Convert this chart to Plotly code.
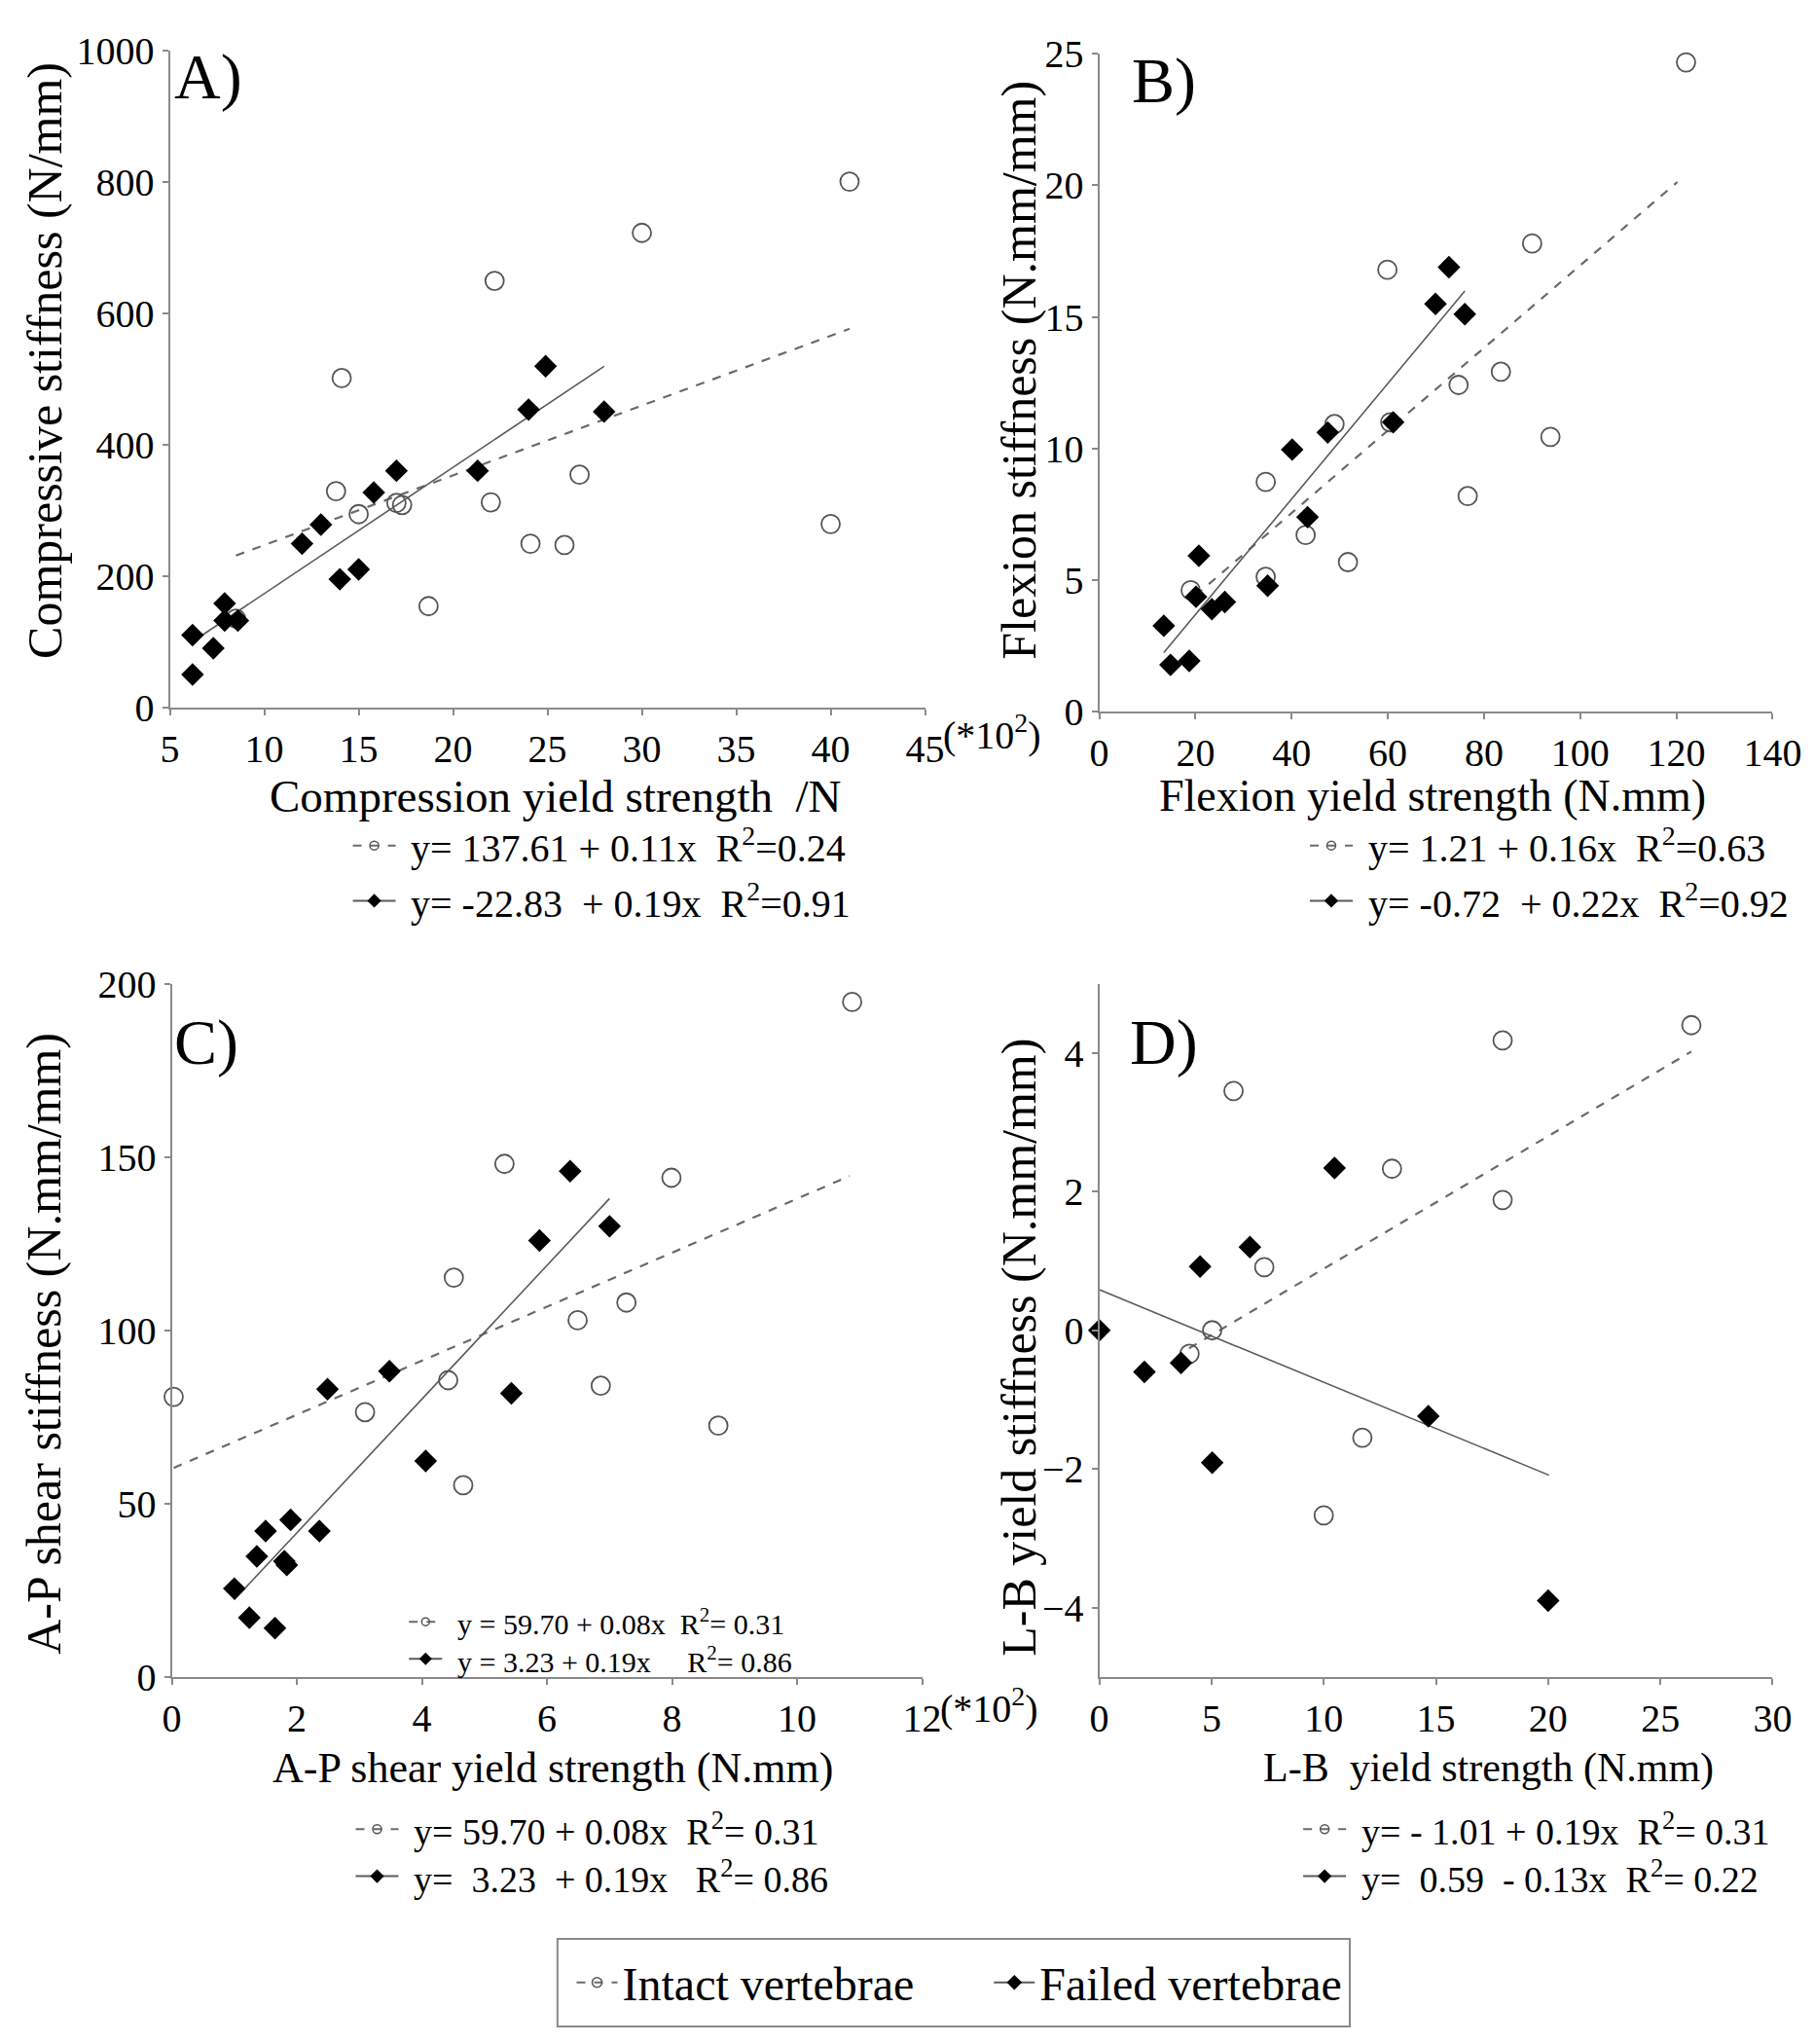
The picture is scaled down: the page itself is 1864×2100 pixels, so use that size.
import plotly.graph_objects as go

FONT = 'Liberation Serif'

# ---- A) compression ----
a_int_x = [41.0, 30.0, 22.2, 14.1, 13.8, 15.0, 17.0, 17.3, 22.0, 26.7, 18.7, 24.1, 25.9, 40.0, 8.5]
a_int_y = [800, 722, 649, 501, 329, 294, 311, 308, 312, 354, 154, 249, 247, 279, 135]
a_fail_x = [6.2, 6.2, 7.3, 7.9, 7.9, 8.6, 12.0, 13.0, 14.0, 15.0, 15.8, 17.0, 21.3, 24.0, 24.9, 28.0]
a_fail_y = [50, 110, 90, 158, 132, 132, 249, 278, 195, 210, 327, 360, 360, 453, 519, 450]
a_int_fit_x, a_int_fit_y = [8.5, 41.0], [231, 576]
a_fail_fit_x, a_fail_fit_y = [6.2, 28.0], [100, 519]

# ---- B) flexion ----
b_int_x = [122.0, 90.0, 59.9, 83.5, 74.7, 48.9, 60.5, 93.8, 76.6, 34.6, 42.9, 51.7, 34.6, 19.0]
b_int_y = [24.68, 17.79, 16.79, 12.91, 12.41, 10.92, 10.99, 10.43, 8.18, 8.72, 6.70, 5.67, 5.11, 4.60]
b_fail_x = [72.7, 69.9, 76.0, 61.1, 47.5, 40.1, 43.3, 35.0, 20.7, 20.1, 23.4, 26.1, 13.4, 14.8, 18.7]
b_fail_y = [16.89, 15.49, 15.10, 10.99, 10.60, 9.95, 7.38, 4.77, 5.91, 4.35, 3.88, 4.15, 3.25, 1.76, 1.91]
b_int_fit_x, b_int_fit_y = [20.0, 120.2], [4.4, 20.13]
b_fail_fit_x, b_fail_fit_y = [13.4, 76.0], [2.23, 15.98]

# ---- C) A-P shear ----
c_int_x = [10.88, 5.32, 7.99, 4.51, 7.27, 6.49, 4.42, 6.86, 0.03, 3.09, 8.74, 4.66]
c_int_y = [194.7, 148.0, 144.0, 115.2, 108.0, 102.9, 85.6, 84.0, 80.8, 76.4, 72.5, 55.3]
c_fail_x = [6.37, 7.0, 5.88, 3.48, 2.49, 5.43, 4.06, 1.90, 1.50, 2.36, 1.36, 1.80, 1.84, 1.0, 1.24, 1.65]
c_fail_y = [145.9, 130.0, 125.9, 88.2, 83.0, 81.8, 62.3, 45.3, 42.1, 42.1, 34.8, 33.4, 32.3, 25.5, 17.1, 14.1]
c_int_fit_x, c_int_fit_y = [0.03, 10.84], [60.3, 144.5]
c_fail_fit_x, c_fail_fit_y = [1.0, 7.0], [22.3, 138.0]

# ---- D) L-B ----
d_int_x = [26.38, 17.97, 5.98, 13.04, 17.97, 7.35, 5.03, 4.02, 11.72, 10.0]
d_int_y = [4.40, 4.18, 3.45, 2.33, 1.88, 0.91, 0.0, -0.34, -1.55, -2.67]
d_fail_x = [10.48, 6.71, 4.49, 0.0, 2.01, 3.64, 14.66, 5.03, 20.0]
d_fail_y = [2.34, 1.20, 0.92, 0.0, -0.60, -0.47, -1.24, -1.91, -3.90]
d_int_fit_x, d_int_fit_y = [4.0, 26.38], [-0.26, 4.02]
d_fail_fit_x, d_fail_fit_y = [0.0, 20.04], [0.585, -2.09]

# regression equations shown under each panel (intact, failed)
eq_a = ['y= 137.61 + 0.11x  R<sup>2</sup>=0.24', 'y= -22.83  + 0.19x  R<sup>2</sup>=0.91']
eq_b = ['y= 1.21 + 0.16x  R<sup>2</sup>=0.63', 'y= -0.72  + 0.22x  R<sup>2</sup>=0.92']
eq_c = ['y= 59.70 + 0.08x  R<sup>2</sup>= 0.31', 'y=  3.23  + 0.19x   R<sup>2</sup>= 0.86']
eq_d = ['y= - 1.01 + 0.19x  R<sup>2</sup>= 0.31', 'y=  0.59  - 0.13x  R<sup>2</sup>= 0.22']
eq_c_inset = ['y = 59.70 + 0.08x  R<sup>2</sup>= 0.31', 'y = 3.23 + 0.19x     R<sup>2</sup>= 0.86']
group_names = ['Intact vertebrae' + '\u00a0' * 6, 'Failed vertebrae']

panels = [
    ('x', 'y', a_int_x, a_int_y, a_fail_x, a_fail_y, a_int_fit_x, a_int_fit_y, a_fail_fit_x, a_fail_fit_y),
    ('x2', 'y2', b_int_x, b_int_y, b_fail_x, b_fail_y, b_int_fit_x, b_int_fit_y, b_fail_fit_x, b_fail_fit_y),
    ('x3', 'y3', c_int_x, c_int_y, c_fail_x, c_fail_y, c_int_fit_x, c_int_fit_y, c_fail_fit_x, c_fail_fit_y),
    ('x4', 'y4', d_int_x, d_int_y, d_fail_x, d_fail_y, d_int_fit_x, d_int_fit_y, d_fail_fit_x, d_fail_fit_y),
]

DASH_COL = '#6a6a6a'
SOLID_COL = '#5a5a5a'
W, H = 1864, 2100

fig = go.Figure()
for xa, ya, ix, iy, fx, fy, ifx, ify, ffx, ffy in panels:
    fig.add_trace(go.Scatter(x=ifx, y=ify, xaxis=xa, yaxis=ya, mode='lines', showlegend=False,
                             line=dict(color=DASH_COL, width=2.2, dash='dash')))
    fig.add_trace(go.Scatter(x=ffx, y=ffy, xaxis=xa, yaxis=ya, mode='lines', showlegend=False,
                             line=dict(color=SOLID_COL, width=1.6)))
    fig.add_trace(go.Scatter(x=ix, y=iy, xaxis=xa, yaxis=ya, mode='markers', showlegend=False,
                             cliponaxis=False,
                             marker=dict(symbol='circle-open', size=19, color='#555555', line=dict(width=1.8))))
    fig.add_trace(go.Scatter(x=fx, y=fy, xaxis=xa, yaxis=ya, mode='markers', showlegend=False,
                             cliponaxis=False,
                             marker=dict(symbol='diamond', size=18, color='black')))


def legend_item(lg, name, intact, msize):
    if intact:
        line = dict(color=DASH_COL, width=2, dash='dash')
        marker = dict(symbol='circle-open', size=msize, color='#555555', line=dict(width=1.5))
    else:
        line = dict(color=SOLID_COL, width=2)
        marker = dict(symbol='diamond', size=msize + 2, color='black')
    fig.add_trace(go.Scatter(x=[None], y=[None], mode='lines+markers', name=name, legend=lg,
                             line=line, marker=marker))


legend_item('legend', group_names[0], True, 10)
legend_item('legend', group_names[1], False, 10)


def ann(text, x, y, size=40, angle=0, xanchor='center'):
    fig.add_annotation(text=text, x=x / W, y=1 - y / H, xref='paper', yref='paper', showarrow=False,
                       textangle=angle, xanchor=xanchor, yanchor='middle', align='left',
                       font=dict(family=FONT, size=size, color='black'))


# equation blocks: two legend keys (symbol only) + the two text lines next to them
# (lines, key left x px, first line centre y px, font size, line gap px, key width, joined in one text?)
eq_blocks = [
    (eq_a, 347, 857, 40, 58, 44, False),
    (eq_b, 1352, 857, 40, 58, 44, False),
    (eq_c, 350, 1890, 38, 49.4, 44, True),
    (eq_d, 1345, 1890, 38, 49.4, 44, True),
    (eq_c_inset, 406, 1672, 30, 39, 34, True),
]
legend_layouts = {}
n = 2
for lines, lx, ly, fs, gap, iw, joined in eq_blocks:
    for k, intact in enumerate([True, False]):
        lg = 'legend%d' % n
        n += 1
        legend_item(lg, ' ', intact, 9 if fs > 35 else 8)
        legend_layouts[lg] = dict(x=lx / W, y=1 - (ly + k * gap) / H, xanchor='left', yanchor='middle',
                                  itemwidth=iw, font=dict(family=FONT, size=fs), bgcolor='rgba(0,0,0,0)')
    if joined:
        ann('<br>'.join(lines), lx + iw + 20, ly + gap / 2, size=fs, xanchor='left')
    else:
        ann(lines[0], lx + iw + 20, ly, size=fs, xanchor='left')
        ann(lines[1], lx + iw + 20, ly + gap, size=fs, xanchor='left')

axis_common = dict(showline=True, linecolor='#8a8a8a', linewidth=2, ticks='outside', ticklen=6,
                   tickcolor='#8a8a8a', tickwidth=2, showgrid=False, zeroline=False,
                   tickfont=dict(family=FONT, size=40, color='black'))


def dom_x(l, r):
    return [l / W, r / W]


def dom_y(t, b):
    return [1 - b / H, 1 - t / H]


fig.update_layout(
    width=W, height=H, margin=dict(l=0, r=0, t=0, b=0),
    paper_bgcolor='white', plot_bgcolor='white',
    font=dict(family=FONT, color='black'),
    xaxis=dict(axis_common, domain=dom_x(160, 953), range=[5, 45], dtick=5, tick0=5, anchor='y'),
    yaxis=dict(axis_common, domain=dom_y(22, 712), range=[0, 1000], dtick=200, anchor='x'),
    xaxis2=dict(axis_common, domain=dom_x(1136, 1843), range=[0, 140], dtick=20, anchor='y2'),
    yaxis2=dict(axis_common, domain=dom_y(26, 716), range=[0, 25], dtick=5, anchor='x2'),
    xaxis3=dict(axis_common, domain=dom_x(162, 950), range=[0, 12], dtick=2, anchor='y3'),
    yaxis3=dict(axis_common, domain=dom_y(1002, 1730), range=[0, 200], dtick=50, anchor='x3'),
    xaxis4=dict(axis_common, domain=dom_x(1136, 1843), range=[0, 30], dtick=5, anchor='y4'),
    yaxis4=dict(axis_common, domain=dom_y(1002, 1730), range=[-5, 5], tickvals=[-4, -2, 0, 2, 4], anchor='x4'),
    legend=dict(orientation='h', x=582 / W, y=1 - 2051 / H, xanchor='left', yanchor='middle',
                borderwidth=0, font=dict(family=FONT, size=48),
                itemwidth=42, bgcolor='rgba(0,0,0,0)'),
    # frame round the bottom legend
    shapes=[dict(type='rect', xref='paper', yref='paper', x0=567 / W, x1=1399 / W,
                 y0=1 - 2097 / H, y1=1 - 2005 / H, line=dict(color='#8a8a8a', width=2))],
    **legend_layouts,
)

# panel letters
ann('A)', 200, 50, size=66)
ann('B)', 1204, 54, size=66)
ann('C)', 198, 1064, size=66)
ann('D)', 1204, 1064, size=66)

# axis titles
ann('Compressive stiffness (N/mm)', 28, 348, size=50, angle=-90)
ann('Flexion stiffness (N.mm/mm)', 1052, 358, size=50, angle=-90)
ann('A-P shear stiffness (N.mm/mm)', 28, 1380, size=50, angle=-90)
ann('L-B yield stiffness (N.mm/mm)', 1052, 1384, size=50, angle=-90)
ann('Compression yield strength  /N', 565, 805, size=47)
ann('Flexion yield strength (N.mm)', 1486, 805, size=46)
ann('A-P shear yield strength (N.mm)', 562, 1826, size=44)
ann('L-B  yield strength (N.mm)', 1545, 1826, size=42)
ann('(*10<sup>2</sup>)', 970, 738, size=40, xanchor='left')
ann('(*10<sup>2</sup>)', 967, 1760, size=40, xanchor='left')

fig.write_html('out.html')
